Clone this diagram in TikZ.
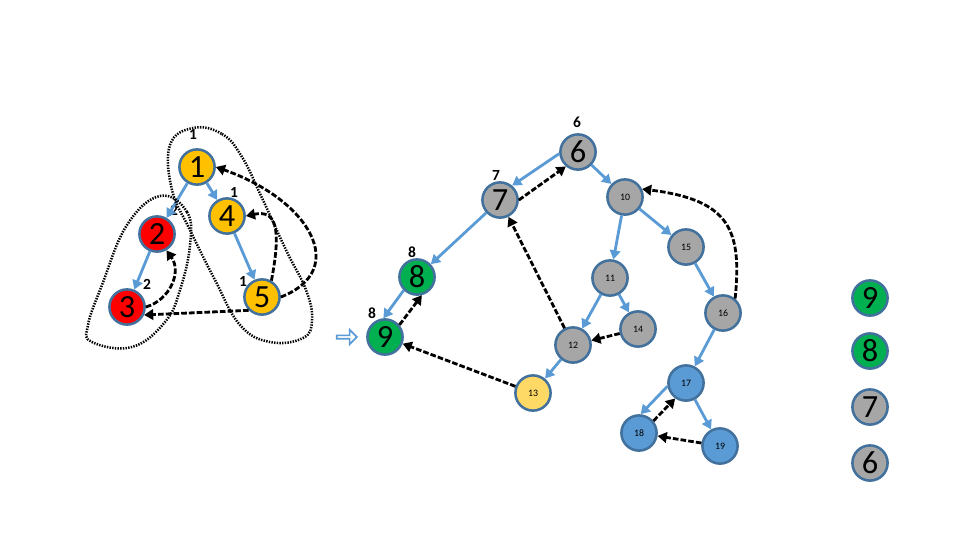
\documentclass[tikz,border=0pt]{standalone}
\usepackage{fontspec}
\setmainfont{Carlito}
\usetikzlibrary{arrows.meta,shapes.arrows}
\definecolor{nodeline}{RGB}{65,113,156}
\definecolor{treeblue}{RGB}{91,155,213}
\definecolor{vamber}{RGB}{255,192,0}
\definecolor{vred}{RGB}{255,0,0}
\definecolor{vgreen}{RGB}{0,176,80}
\definecolor{vgray}{RGB}{166,166,166}
\definecolor{vyellow}{RGB}{255,217,102}
\definecolor{vblue}{RGB}{91,155,213}

\begin{document}
\begin{tikzpicture}[
    x=0.025cm, y=-0.025cm,
    vtx/.style={circle, draw=nodeline, line width=1.8pt, minimum size=0.88cm, inner sep=0pt},
    bigvtx/.style={vtx, font=\fontsize{23}{23}\selectfont},
    tinyvtx/.style={vtx, font=\fontsize{7}{7}\selectfont},
    lbl/.style={font=\fontsize{11}{11}\selectfont\bfseries, inner sep=0pt},
    tree/.style={-{Triangle[width=7.5pt,length=6.5pt]}, line width=2pt, draw=treeblue},
    back/.style={-{Triangle[width=7.5pt,length=6.5pt]}, line width=2pt, dash pattern=on 4pt off 1.5pt},
    cut/.style={line width=1.8pt, dash pattern=on 1pt off 0.9pt}
]
\useasboundingbox (0,0) rectangle (960,540);

\node[bigvtx, fill=vamber] (n1) at (197,167) {1};
\node[bigvtx, fill=vamber] (n4) at (227,216) {4};
\node[bigvtx, fill=vred] (n2) at (157,234) {2};
\node[bigvtx, fill=vred] (n3) at (127,307) {3};
\node[bigvtx, fill=vamber] (n5) at (262,297) {5};

\node[lbl] (t1) at (193,134) {1};
\node[lbl] (t4) at (234,192) {1};
\node[lbl] (t2) at (174,210) {2};
\node[lbl] (t3) at (147,284) {2};
\node[lbl] (t5) at (243,281) {1};

\draw[tree] (n1) -- (n2);
\draw[tree] (n1) -- (n4);
\draw[tree] (n2) -- (n3);
\draw[tree] (n4) -- (n5);

\draw[back] (n3.east) .. controls (170,300) and (182,272) .. (n2.-60);
\draw[back] (n5.225) -- (n3.-25);
\draw[back] (n5.60) .. controls (282,225) and (275,210) .. (n4.east);
\draw[back] (n5.east) .. controls (350,270) and (310,200) .. (n1.east);

\draw[cut] plot[smooth cycle, tension=0.7] coordinates {(160,196) (187,212) (190,245) (180,290) (165,322) (132,347) (92,342) (88,325) (102,285) (127,225)};
\draw[cut] plot[smooth cycle, tension=0.7] coordinates {(193,128) (222,134) (242,157) (262,198) (286,250) (306,290) (312,320) (303,338) (270,342) (240,325) (215,280) (190,230) (172,190) (170,145)};

\node[single arrow, draw=treeblue, fill=white, line width=1.2pt, minimum height=0.5cm, minimum width=0.36cm, single arrow head extend=2pt, inner sep=0pt] (pointer) at (346,337) {};

\node[bigvtx, fill=vgray] (n6) at (578,152) {6};
\node[bigvtx, fill=vgray] (n7) at (500,200) {7};
\node[bigvtx, fill=vgreen] (n8) at (417,277) {8};
\node[bigvtx, fill=vgreen] (n9) at (385,337) {9};
\node[tinyvtx, fill=vgray] (n10) at (625,197) {10};
\node[tinyvtx, fill=vgray] (n11) at (610,278) {11};
\node[tinyvtx, fill=vgray] (n12) at (573,345) {12};
\node[tinyvtx, fill=vyellow] (n13) at (533,393) {13};
\node[tinyvtx, fill=vgray] (n14) at (638,329) {14};
\node[tinyvtx, fill=vgray] (n15) at (686,247) {15};
\node[tinyvtx, fill=vgray] (n16) at (723,313) {16};
\node[tinyvtx, fill=vblue] (n17) at (686,383) {17};
\node[tinyvtx, fill=vblue] (n18) at (639,433) {18};
\node[tinyvtx, fill=vblue] (n19) at (720,446) {19};

\node[lbl] (t6) at (577,122) {6};
\node[lbl] (t7) at (496,175) {7};
\node[lbl] (t8) at (412,252) {8};
\node[lbl] (t9) at (372,313) {8};

\draw[tree] (n6.185) -- (n7.50);
\draw[tree] (n7) -- (n8);
\draw[tree] (n8.225) -- (n9.95);
\draw[tree] (n6) -- (n10);
\draw[tree] (n10) -- (n11);
\draw[tree] (n10) -- (n15);
\draw[tree] (n11) -- (n12);
\draw[tree] (n11) -- (n14);
\draw[tree] (n12) -- (n13);
\draw[tree] (n15) -- (n16);
\draw[tree] (n16) -- (n17);
\draw[tree] (n17.190) -- (n18.85);
\draw[tree] (n17) -- (n19);

\draw[back] (n7.0) -- (n6.230);
\draw[back] (n9.40) -- (n8.285);
\draw[back] (n12) -- (n7);
\draw[back] (n13) -- (n9);
\draw[back] (n14) -- (n12);
\draw[back] (n16.50) .. controls (742,230) and (730,200) .. (n10.25);
\draw[back] (n18.40) -- (n17.235);
\draw[back] (n19) -- (n18);

\node[bigvtx, fill=vgreen] (s9) at (870,298) {9};
\node[bigvtx, fill=vgreen] (s8) at (870,351) {8};
\node[bigvtx, fill=vgray] (s7) at (870,407) {7};
\node[bigvtx, fill=vgray] (s6) at (870,463) {6};
\end{tikzpicture}
\end{document}
